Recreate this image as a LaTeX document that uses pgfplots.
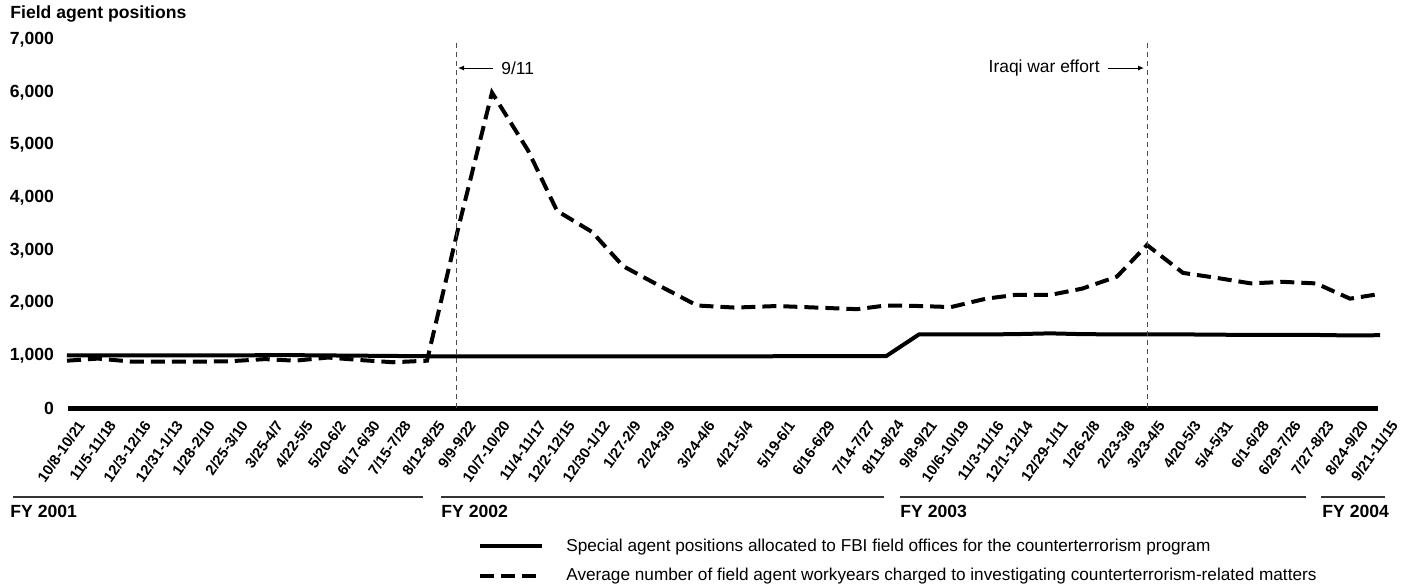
\documentclass[border=0pt]{standalone}
\usepackage{fontspec}
\setmainfont{Liberation Sans}
\usepackage{pgfplots}
\pgfplotsset{compat=1.18}
\usepackage{pgfplotstable}
\usetikzlibrary{arrows.meta}

% x = position of each four-week period along the axis (as drawn in the original)
\pgfplotstableread{
x     allocated  charged
67    1000       900
98    1000       940
133   1000       880
165   1000       880
197   1000       880
230   1000       890
265   1005       930
295   1005       900
328   1000       960
362   995        910
393   990        870
427   985        900
458   980        3400
492   980        6000
528   980        4900
557   980        3750
592   980        3350
623   980        2700
657   980        2350
697   980        1950
735   980        1910
777   985        1940
817   985        1910
857   985        1880
886   985        1950
919   1400       1940
951   1400       1920
986   1400       2080
1015  1405       2150
1050  1420       2150
1082  1405       2270
1117  1400       2500
1147  1400       3100
1183  1400       2570
1215  1395       2480
1251  1390       2370
1283  1390       2400
1316  1390       2370
1350  1380       2080
1380  1385       2170
}\fieldagents

\begin{document}
\begin{tikzpicture}
\path[use as bounding box] (-33.5pt,-88pt) rectangle (667pt,204pt);
\begin{axis}[
    at={(0pt,0pt)}, anchor=south west,
    scale only axis,
    width=656.5pt, height=184pt,
    xmin=67, xmax=1380,
    ymin=0, ymax=7000,
    clip=false,
    axis line style={draw=none},
    major tick length=0pt,
    ytick={0,1000,...,7000},
    scaled y ticks=false,
    /pgf/number format/assume math mode=true,
    /pgf/number format/1000 sep={,},
    yticklabel style={font=\fontsize{8.8}{10}\selectfont\bfseries, xshift=-3pt},
    xtick={67,98,133,165,197,230,265,295,328,362,393,427,458,492,528,557,592,623,657,697,735,777,817,857,886,919,951,986,1015,1050,1082,1117,1147,1183,1215,1251,1283,1316,1350,1380},
    xticklabels={10/8-10/21,11/5-11/18,12/3-12/16,12/31-1/13,1/28-2/10,2/25-3/10,3/25-4/7,4/22-5/5,5/20-6/2,6/17-6/30,7/15-7/28,8/12-8/25,9/9-9/22,10/7-10/20,11/4-11/17,12/2-12/15,12/30-1/12,1/27-2/9,2/24-3/9,3/24-4/6,4/21-5/4,5/19-6/1,6/16-6/29,7/14-7/27,8/11-8/24,9/8-9/21,10/6-10/19,11/3-11/16,12/1-12/14,12/29-1/11,1/26-2/8,2/23-3/8,3/23-4/5,4/20-5/3,5/4-5/31,6/1-6/28,6/29-7/26,7/27-8/23,8/24-9/20,9/21-11/15},
    xticklabel style={font=\fontsize{7.4}{8}\selectfont\bfseries, rotate=55, anchor=east, inner sep=0pt, yshift=-10pt, xshift=-1.5pt},
    legend style={draw=none, fill=none, at={(0.313,-0.4158)}, anchor=west,
        inner sep=0pt, row sep=3pt,
        font=\fontsize{8.6}{10}\selectfont,
        /tikz/every odd column/.append style={column sep=9pt}},
    legend cell align=left,
    legend image code/.code={\draw[#1] (0pt,0pt) -- (31pt,0pt);},
]
\addplot[black, line width=2pt] table[x=x, y=allocated] {\fieldagents};
\addlegendentry{Special agent positions allocated to FBI field offices for the counterterrorism program}
\addplot[black, line width=2pt, dash pattern=on 7pt off 3.5pt] table[x=x, y=charged] {\fieldagents};
\addlegendentry{Average number of field agent workyears charged to investigating counterterrorism-related matters}

% zero line
\draw[line width=2.5pt] (axis cs:68,0) -- (axis cs:1378,0);

% event markers
\draw[black!70, line width=0.5pt, dash pattern=on 2.5pt off 2pt] (axis cs:456,0) -- (axis cs:456,7000);
\draw[black!70, line width=0.5pt, dash pattern=on 2.5pt off 2pt] (axis cs:1147,0) -- (axis cs:1147,7000);
\draw[-{Latex[length=3pt,width=2.5pt]}, line width=0.5pt] (axis cs:493,6467) -- (axis cs:458,6467);
\node[anchor=west, inner sep=0pt, font=\fontsize{8.7}{10}\selectfont] at (axis cs:501,6467) {9/11};
\draw[-{Latex[length=3pt,width=2.5pt]}, line width=0.5pt] (axis cs:1108,6467) -- (axis cs:1144,6467);
\node[anchor=east, inner sep=0pt, font=\fontsize{8.7}{10}\selectfont] at (axis cs:1100,6467) {Iraqi war effort};

% title
\node[anchor=west, inner sep=0pt, font=\fontsize{8.8}{10}\selectfont\bfseries] at (axis cs:10,7494) {Field agent positions};

% fiscal years
\draw[black!80, line width=0.7pt] (axis cs:13,-1693) -- (axis cs:423,-1693);
\draw[black!80, line width=0.7pt] (axis cs:441,-1693) -- (axis cs:884,-1693);
\draw[black!80, line width=0.7pt] (axis cs:900,-1693) -- (axis cs:1306,-1693);
\draw[black!80, line width=0.7pt] (axis cs:1321,-1693) -- (axis cs:1385,-1693);
\node[anchor=west, inner sep=0pt, font=\fontsize{8.8}{10}\selectfont\bfseries] at (axis cs:10,-1960) {FY 2001};
\node[anchor=west, inner sep=0pt, font=\fontsize{8.8}{10}\selectfont\bfseries] at (axis cs:441,-1960) {FY 2002};
\node[anchor=west, inner sep=0pt, font=\fontsize{8.8}{10}\selectfont\bfseries] at (axis cs:900,-1960) {FY 2003};
\node[anchor=west, inner sep=0pt, font=\fontsize{8.8}{10}\selectfont\bfseries] at (axis cs:1322,-1960) {FY 2004};
\end{axis}
\end{tikzpicture}
\end{document}
